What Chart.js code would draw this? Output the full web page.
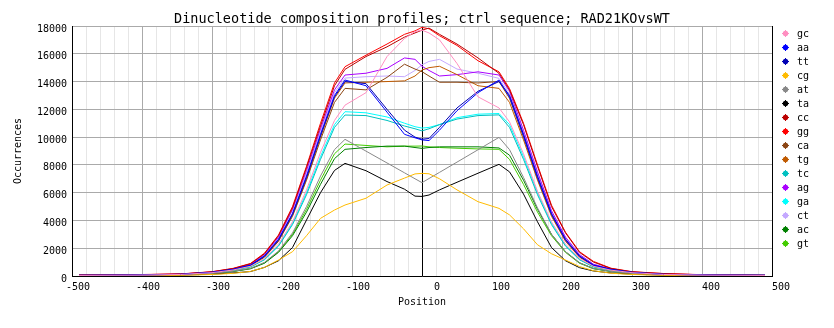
<!DOCTYPE html>
<html>
<head>
<meta charset="utf-8">
<script src="https://cdn.jsdelivr.net/npm/chart.js@4/dist/chart.umd.min.js"></script>
<style>
  body { margin: 0; background: #fff; }
  canvas { display: block; }
</style>
</head>
<body>
<canvas id="profileChart" width="834" height="328"></canvas>
<script>
// positions along the sequence (bp)
const positions = [-490, -410, -345, -300, -270, -245, -225, -205, -185, -165, -145, -125,
  -110, -80, -50, -25, -10, 0, 10, 25, 50, 80, 110,
  125, 145, 165, 185, 205, 225, 245, 270, 300, 345, 410, 490];

// occurrences per dinucleotide
const gc = [40, 60, 110, 240, 430, 700, 1250, 2300, 3900, 6200, 8900, 11200,
  12300, 13200, 15800, 17100, 17600, 17700, 17500, 17000, 15300, 12900, 12100,
  11100, 8800, 6100, 3900, 2300, 1250, 700, 420, 240, 110, 60, 40];
const aa = [50, 70, 120, 270, 480, 780, 1450, 2650, 4500, 7200, 10200, 13000,
  14110, 13700, 11800, 10200, 9950, 9800, 9750, 10500, 11900, 13200, 14110,
  12900, 10100, 7100, 4450, 2600, 1420, 770, 470, 260, 120, 70, 50];
const tt = [50, 70, 120, 260, 470, 770, 1420, 2600, 4450, 7100, 10100, 12900,
  14000, 13850, 12000, 10500, 10000, 9850, 9900, 10700, 12100, 13300, 14000,
  13000, 10200, 7200, 4500, 2650, 1450, 780, 480, 270, 120, 70, 50];
const cg = [20, 30, 50, 110, 190, 330, 620, 1150, 1750, 2900, 4150, 4750,
  5110, 5600, 6550, 7050, 7350, 7390, 7360, 7000, 6200, 5350, 4870,
  4400, 3400, 2250, 1600, 1150, 680, 380, 200, 110, 50, 30, 20];
const at = [40, 50, 90, 190, 340, 550, 980, 1800, 3100, 5000, 7200, 9100,
  9840, 8990, 8140, 7430, 7000, 6720, 7020, 7460, 8200, 9090, 9980,
  9100, 7100, 4900, 3000, 1750, 950, 540, 330, 190, 90, 50, 40];
const ta = [30, 40, 60, 130, 220, 320, 620, 1100, 2050, 4030, 6000, 7600,
  8110, 7580, 6800, 6250, 5750, 5730, 5830, 6200, 6750, 7400, 8040,
  7500, 5900, 3900, 2050, 1100, 600, 360, 220, 130, 60, 40, 30];
const cc = [60, 90, 140, 300, 530, 880, 1600, 2900, 4900, 7800, 10800, 13700,
  14880, 15800, 16500, 17200, 17500, 17700, 17850, 17400, 16700, 15700, 14590,
  13400, 10900, 7900, 5000, 3100, 1700, 1000, 540, 300, 170, 70, 40];
const gg = [70, 100, 150, 310, 550, 900, 1650, 2950, 5000, 7900, 11000, 13900,
  15070, 15900, 16700, 17400, 17650, 17900, 17800, 17300, 16600, 15500, 14700,
  13500, 11000, 8000, 5100, 3150, 1750, 1050, 560, 310, 180, 80, 40];
const ca = [50, 60, 110, 250, 450, 740, 1350, 2500, 4300, 6900, 9800, 12500,
  13510, 13400, 14300, 15250, 14900, 14710, 14400, 13950, 13950, 13900, 14000,
  12800, 10000, 7000, 4400, 2550, 1400, 760, 460, 260, 120, 70, 50];
const tg = [50, 70, 120, 260, 460, 760, 1400, 2550, 4400, 7000, 10000, 12800,
  13900, 13950, 14000, 14050, 14400, 14830, 15000, 15100, 14500, 13700, 13510,
  12500, 9800, 6900, 4300, 2500, 1350, 740, 450, 250, 110, 60, 50];
const tc = [40, 60, 100, 220, 400, 650, 1170, 2150, 3700, 5850, 8400, 10700,
  11590, 11550, 11200, 10800, 10600, 10450, 10600, 10900, 11300, 11550, 11600,
  10700, 8400, 5850, 3700, 2150, 1170, 650, 400, 220, 100, 60, 40];
const ag = [60, 90, 140, 290, 510, 840, 1550, 2800, 4800, 7600, 10600, 13400,
  14470, 14600, 14950, 15700, 15600, 15100, 14800, 14400, 14500, 14700, 14470,
  13300, 10500, 7500, 4700, 2800, 1550, 850, 500, 290, 140, 90, 60];
const ga = [40, 60, 100, 230, 410, 670, 1200, 2200, 3800, 6000, 8600, 10900,
  11830, 11750, 11450, 11000, 10750, 10650, 10700, 10900, 11400, 11650, 11700,
  10900, 8600, 6000, 3800, 2200, 1200, 670, 410, 230, 100, 60, 40];
const ct = [60, 70, 130, 280, 500, 820, 1500, 2750, 4700, 7400, 10400, 13200,
  14250, 14350, 14400, 14350, 14800, 15200, 15450, 15600, 14900, 14600, 14230,
  13100, 10300, 7400, 4650, 2750, 1500, 820, 490, 280, 130, 70, 60];
const ac = [40, 50, 80, 180, 320, 520, 920, 1700, 2900, 4600, 6600, 8450,
  9120, 9250, 9350, 9350, 9250, 9190, 9250, 9300, 9300, 9300, 9220,
  8700, 6900, 4800, 3000, 1750, 950, 540, 330, 190, 90, 50, 40];
const gt = [40, 50, 90, 190, 330, 540, 950, 1750, 3000, 4800, 6900, 8800,
  9500, 9400, 9300, 9350, 9350, 9360, 9300, 9250, 9200, 9150, 9120,
  8400, 6600, 4600, 2900, 1700, 920, 520, 320, 180, 80, 50, 40];

const seriesNames = ['gc', 'aa', 'tt', 'cg', 'at', 'ta', 'cc', 'gg', 'ca', 'tg', 'tc', 'ag', 'ga', 'ct', 'ac', 'gt'];
const seriesValues = [gc, aa, tt, cg, at, ta, cc, gg, ca, tg, tc, ag, ga, ct, ac, gt];
const seriesColors = ['#ff8ec0', '#0000ff', '#0000b4', '#ffbb00', '#888888', '#000000', '#bb0000', '#ff0000',
  '#8b4513', '#c05a00', '#00c0c0', '#aa00ff', '#00ffff', '#c4a8ff', '#008000', '#44cc00'];

const MONO = '"DejaVu Sans Mono", "Liberation Mono", monospace';

const datasets = seriesNames.map((name, k) => ({
  label: name,
  data: positions.map((x, i) => ({ x: x, y: seriesValues[k][i] })),
  borderColor: seriesColors[k],
  backgroundColor: seriesColors[k],
  showLine: true,
  fill: false
}));

// title and the legend on the right are drawn by hand
const extrasPlugin = {
  id: 'extras',
  afterDraw(chart) {
    const c = chart.ctx;
    const area = chart.chartArea;
    c.save();
    c.fillStyle = '#000';
    c.font = '13.5px ' + MONO;
    c.textAlign = 'center';
    c.textBaseline = 'alphabetic';
    c.fillText('Dinucleotide composition profiles; ctrl sequence; RAD21KOvsWT', (area.left + area.right) / 2, 23);

    c.font = '10px ' + MONO;
    c.textAlign = 'left';
    c.textBaseline = 'middle';
    chart.data.datasets.forEach((ds, i) => {
      const cx = Math.round(area.right) + 13;
      const cy = Math.round(area.top) + 7 + i * 14;
      c.fillStyle = ds.borderColor;
      c.beginPath();
      c.arc(cx + 0.5, cy + 0.5, 2.7, 0, Math.PI * 2);
      c.fill();
      c.fillRect(cx - 3, cy, 7, 1);
      c.fillRect(cx, cy - 3, 1, 7);
      c.fillStyle = '#000';
      c.fillText(ds.label, cx + 12, cy + 1);
    });
    c.restore();
  }
};

const ctx = document.getElementById('profileChart').getContext('2d');
new Chart(ctx, {
  type: 'scatter',
  data: { datasets: datasets },
  options: {
    responsive: false,
    animation: false,
    layout: { padding: { top: 26, right: 62, left: 0, bottom: 0 } },
    elements: {
      point: { radius: 0, hoverRadius: 0 },
      line: { borderWidth: 1, tension: 0 }
    },
    plugins: {
      legend: { display: false },
      tooltip: { enabled: false }
    },
    scales: {
      x: {
        type: 'linear',
        min: -500,
        max: 500,
        afterFit: s => { s.height = 52; },
        border: { color: '#000' },
        grid: {
          drawTicks: false,
          color: c => {
            const v = Math.round(c.tick.value);
            if (v === 0 || v === 500) return '#000';
            return v % 100 === 0 ? '#aaaaaa' : '#e6e6e6';
          }
        },
        ticks: {
          stepSize: 20,
          autoSkip: false,
          maxRotation: 0,
          align: 'end',
          labelOffset: 18,
          padding: 5,
          color: '#000',
          font: { family: MONO, size: 10 },
          callback: v => (Math.round(v) % 100 === 0 ? String(Math.round(v)) : '')
        },
        title: {
          display: true,
          text: 'Position',
          color: '#000',
          font: { family: MONO, size: 10 },
          padding: { top: 0, bottom: 20 }
        }
      },
      y: {
        min: 0,
        max: 18000,
        afterFit: s => { s.width = 72; },
        border: { color: '#000' },
        grid: { drawTicks: false, color: '#aaaaaa' },
        ticks: {
          stepSize: 2000,
          padding: 5,
          labelOffset: 3,
          color: '#000',
          font: { family: MONO, size: 10 },
          callback: v => String(v)
        },
        title: {
          display: true,
          text: 'Occurrences',
          color: '#000',
          font: { family: MONO, size: 10 },
          padding: { top: 12, bottom: 0 }
        }
      }
    }
  },
  plugins: [extrasPlugin]
});
</script>
</body>
</html>
